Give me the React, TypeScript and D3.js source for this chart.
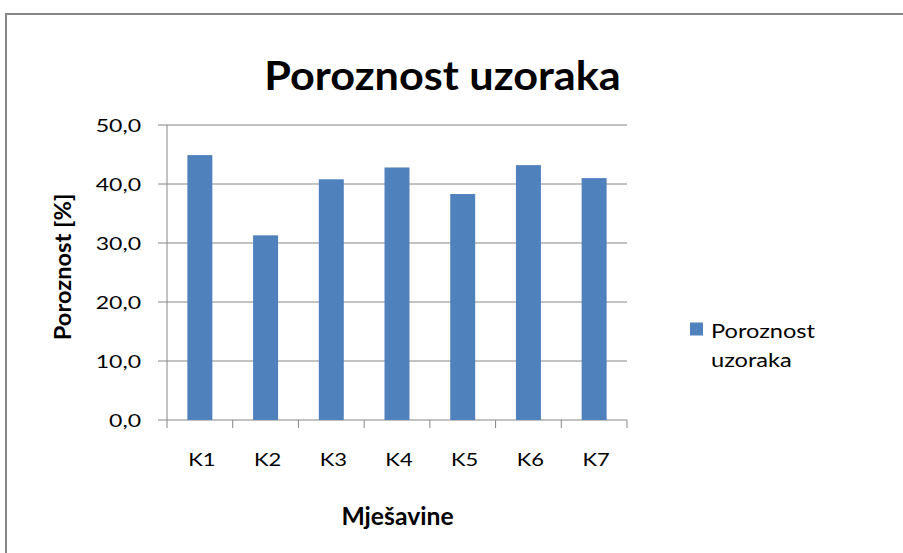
import React from "react";
import * as d3 from "d3";

const categories = ["K1", "K2", "K3", "K4", "K5", "K6", "K7"];
const values = [44.9, 31.3, 40.8, 42.8, 38.3, 43.2, 41.0];
const yTicks = [0, 10, 20, 30, 40, 50];
const seriesName = "Poroznost uzoraka";
const legendLines = ["Poroznost", "uzoraka"];
const xTitle = "Mješavine";
const yTitle = "Poroznost [%]";

const W = 903;
const H = 553;
const plot = { left: 167, right: 627, top: 125, bottom: 420 };
const FONT = "Lato, 'Open Sans', sans-serif";
const BAR = "#4F81BD";
const GRID = "#868686";

type LabelProps = {
  x: number;
  y: number;
  size: number;
  sx?: number;
  anchor?: "start" | "middle" | "end";
  bold?: boolean;
  rotate?: number;
  children: React.ReactNode;
};

// Text placed at (x, y) with an optional horizontal stretch and rotation.
function Label({ x, y, size, sx = 1, anchor = "start", bold = false, rotate = 0, children }: LabelProps) {
  return (
    <text
      transform={`translate(${x},${y}) rotate(${rotate}) scale(${sx},1)`}
      textAnchor={anchor}
      fontFamily={FONT}
      fontWeight={bold ? 700 : 400}
      fontSize={size}
      fill="#000"
    >
      {children}
    </text>
  );
}

export default function App() {
  const x = d3
    .scaleBand<string>()
    .domain(categories)
    .range([plot.left, plot.right])
    .paddingInner(0.62)
    .paddingOuter(0.31);
  const y = d3.scaleLinear().domain([0, 50]).range([plot.bottom, plot.top]);
  const step = x.step();
  const fmt = (v: number) => v.toFixed(1).replace(".", ",");

  return (
    <svg
      width={W}
      height={H}
      style={{ position: "absolute", left: 0, top: 0, background: "#fff" }}
    >
      <rect x={6} y={14} width={W + 10} height={H + 10} fill="#fff" stroke="#888" strokeWidth={2} />
      <Label x={442.5} y={89.5} size={40} sx={1.08} anchor="middle" bold>
        {seriesName}
      </Label>

      {yTicks.map((t) => (
        <g key={t}>
          <line x1={plot.left - 9} x2={plot.right} y1={y(t)} y2={y(t)} stroke={GRID} strokeWidth={1} />
          <Label x={141} y={y(t) + 7} size={18} sx={1.28} anchor="end">
            {fmt(t)}
          </Label>
        </g>
      ))}
      <line x1={plot.left} x2={plot.left} y1={plot.top} y2={plot.bottom} stroke={GRID} />

      {categories.map((c, i) => (
        <rect
          key={c}
          x={x(c)!}
          y={y(values[i])}
          width={x.bandwidth()}
          height={plot.bottom - y(values[i])}
          fill={BAR}
        />
      ))}

      {d3.range(categories.length + 1).map((i) => (
        <line
          key={i}
          x1={plot.left + i * step}
          x2={plot.left + i * step}
          y1={plot.bottom}
          y2={plot.bottom + 8}
          stroke={GRID}
        />
      ))}
      {categories.map((c) => (
        <Label key={c} x={x(c)! + x.bandwidth() / 2 + 2} y={466} size={18} sx={1.22} anchor="middle">
          {c}
        </Label>
      ))}

      <Label x={397.5} y={525} size={24} sx={1.03} anchor="middle" bold>
        {xTitle}
      </Label>
      <Label x={71} y={267} size={23} sx={1.03} anchor="middle" bold rotate={-90}>
        {yTitle}
      </Label>

      <rect x={690} y={322.5} width={13} height={13} fill={BAR} />
      {legendLines.map((line, i) => (
        <Label key={line} x={711} y={337.5 + i * 29.5} size={20} sx={1.18}>
          {line}
        </Label>
      ))}
    </svg>
  );
}
